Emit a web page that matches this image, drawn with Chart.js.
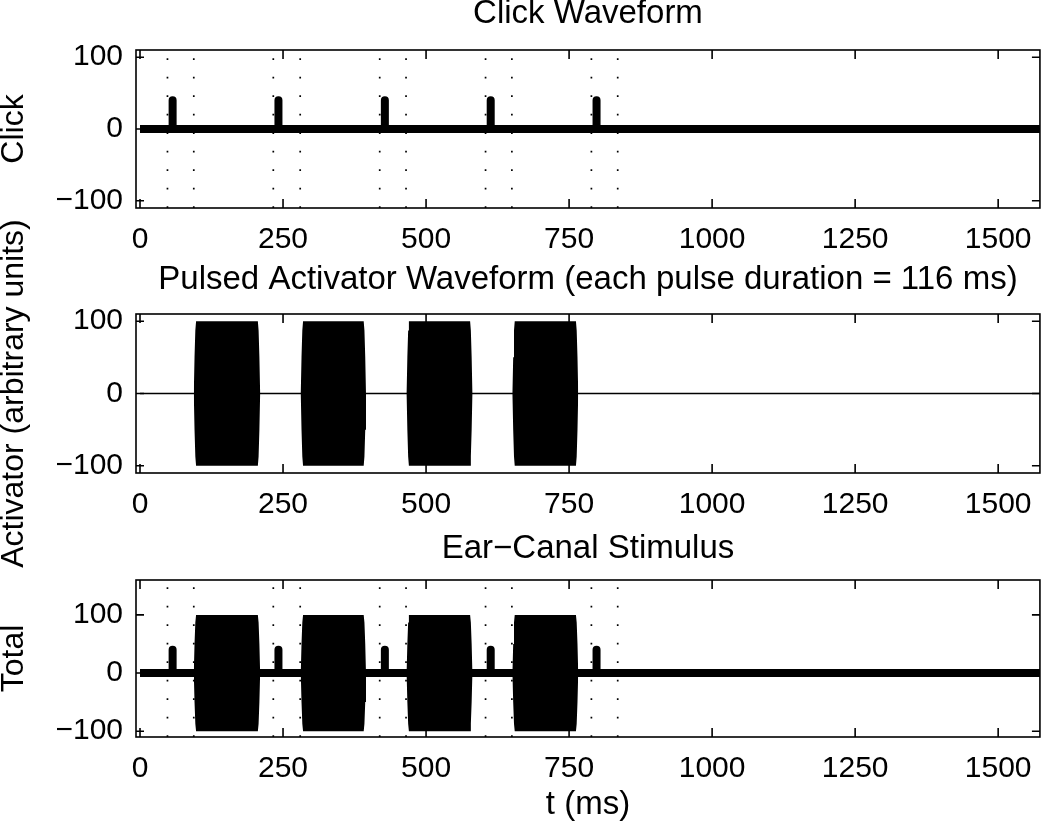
<!DOCTYPE html>
<html>
<head>
<meta charset="utf-8">
<script src="https://cdn.jsdelivr.net/npm/chart.js@4"></script>
<style>
  body { margin: 0; background: #fff; }
  #wrap { position: relative; width: 1050px; height: 830px; }
  #wrap canvas { position: absolute; left: 0; top: 0; }
</style>
</head>
<body>
<div id="wrap">
  <canvas id="clickChart" width="1050" height="830"></canvas>
  <canvas id="actChart" width="1050" height="830"></canvas>
  <canvas id="totalChart" width="1050" height="830"></canvas>
</div>
<script>
// axis ticks
const xTicks = [0, 250, 500, 750, 1000, 1250, 1500];
const yTicks = [-100, 0, 100];
const tEnd = 1573; // ms, end of record

// click train (ms) and its level
const clickTimes = [57, 242, 428, 613, 798];
const clickLevel = 40;

// dotted analysis windows round each click (ms)
const gateStarts = [48, 233, 419, 604, 789];
const gateEnds = [94, 280, 465, 650, 835];

// activator pulses (ms), 116 ms each
const pulseStarts = [94, 281, 466, 651];
const pulseEnds = [210, 395, 581, 766];
const pulseLevel = 100;
// onset ramp of the pulse envelope: time after onset (ms) -> fraction of level
const rampTimes = [0, 1.3, 2.7, 4];
const rampLevels = [0, 0.5, 0.87, 1];

Chart.defaults.font.family = "'Liberation Sans', Arial, Helvetica, sans-serif";
Chart.defaults.color = '#000';

const TICK_FONT = { size: 30, lineHeight: '28px' };
const LABEL_FONT = { size: 33, lineHeight: '28px' };

// build traces from the arrays above
function clickTrace() {
    const pts = [{ x: 0, y: 0 }];
    clickTimes.forEach(t => {
        pts.push({ x: t, y: 0 }, { x: t, y: clickLevel }, { x: t, y: 0 });
    });
    pts.push({ x: tEnd, y: 0 });
    return pts;
}

function envelope(sign) {
    const pts = [];
    pulseStarts.forEach((on, i) => {
        const off = pulseEnds[i];
        rampTimes.forEach((r, k) => pts.push({ x: on + r, y: sign * pulseLevel * rampLevels[k] }));
        for (let k = rampTimes.length - 1; k >= 0; k--) {
            pts.push({ x: off - rampTimes[k], y: sign * pulseLevel * rampLevels[k] });
        }
    });
    return pts;
}

function gateLines(yMin, yMax) {
    return gateStarts.concat(gateEnds).map(t => ({
        data: [{ x: t, y: yMin }, { x: t, y: yMax }],
        borderColor: '#000',
        borderWidth: 1.7,
        borderDash: [1.7, 16.8],
        pointRadius: 0,
        clip: 0
    }));
}

function burstSets() {
    return [1, -1].map(s => ({
        data: envelope(s),
        borderColor: 'rgba(0,0,0,0)',
        borderWidth: 1,
        backgroundColor: '#000',
        fill: 'origin',
        pointRadius: 0,
        clip: 0
    }));
}

function clickSet() {
    return {
        data: clickTrace(),
        borderColor: '#000',
        borderWidth: 8,
        borderJoinStyle: 'round',
        pointRadius: 0,
        clip: 0
    };
}

const fmt = v => (v < 0 ? '\u2212' + (-v) : String(v));

// matlab style box with inward ticks on all four sides
const boxTicks = {
    id: 'boxTicks',
    afterDatasetsDraw(chart) {
        const { ctx, chartArea: a, scales: { x, y } } = chart;
        ctx.save();
        ctx.strokeStyle = '#000';
        ctx.lineWidth = 1.6;
        ctx.strokeRect(a.left, a.top, a.right - a.left, a.bottom - a.top);
        ctx.beginPath();
        x.ticks.forEach(t => {
            const px = x.getPixelForValue(t.value);
            ctx.moveTo(px, a.bottom); ctx.lineTo(px, a.bottom - 9);
            ctx.moveTo(px, a.top); ctx.lineTo(px, a.top + 9);
        });
        y.ticks.forEach(t => {
            const py = y.getPixelForValue(t.value);
            ctx.moveTo(a.left, py); ctx.lineTo(a.left + 8, py);
            ctx.moveTo(a.right, py); ctx.lineTo(a.right - 8, py);
        });
        ctx.stroke();
        ctx.restore();
    }
};

function panel(id, datasets, p) {
    return new Chart(document.getElementById(id), {
        type: 'line',
        data: { datasets },
        options: {
            responsive: false,
            animation: false,
            events: [],
            layout: { padding: { top: p.top, bottom: p.bottom, left: 0, right: 5 } },
            plugins: {
                legend: { display: false },
                tooltip: { enabled: false },
                title: {
                    display: true,
                    text: p.title,
                    fullSize: false,
                    font: { size: 33, weight: 'normal', lineHeight: '28px' },
                    padding: { top: 0, bottom: p.gap }
                }
            },
            scales: {
                x: {
                    type: 'linear',
                    min: -7,
                    max: tEnd,
                    grid: { display: false, drawTicks: false },
                    border: { display: false },
                    ticks: { padding: 18, font: TICK_FONT, maxRotation: 0, autoSkip: false, callback: fmt },
                    afterBuildTicks: s => { s.ticks = xTicks.map(v => ({ value: v })); },
                    afterFit: s => { s.height = p.xHeight; },
                    title: {
                        display: !!p.xLabel,
                        text: p.xLabel || '',
                        font: LABEL_FONT,
                        padding: { top: 0, bottom: 11 }
                    }
                },
                y: {
                    type: 'linear',
                    min: p.yMin,
                    max: p.yMax,
                    grid: { display: false, drawTicks: false },
                    border: { display: false },
                    ticks: { padding: 13, font: TICK_FONT, autoSkip: false, callback: fmt },
                    afterBuildTicks: s => { s.ticks = yTicks.map(v => ({ value: v })); },
                    afterFit: s => { s.width = 136; },
                    title: {
                        display: true,
                        text: p.yLabel,
                        font: { size: 32, lineHeight: '28px' },
                        padding: { top: 0, bottom: 0 }
                    }
                }
            }
        },
        plugins: [boxTicks]
    });
}

panel('clickChart', [clickSet(), ...gateLines(-110, 110)], {
    title: 'Click Waveform', yLabel: 'Click',
    yMin: -110, yMax: 110,
    top: 0, gap: 22, bottom: 562, xHeight: 60
});

panel('actChart', [
    { data: [{ x: 0, y: 0 }, { x: tEnd, y: 0 }], borderColor: '#000', borderWidth: 1.6, pointRadius: 0, clip: 0 },
    ...burstSets()
], {
    title: 'Pulsed Activator Waveform (each pulse duration = 116 ms)', yLabel: 'Activator (arbitrary units)',
    yMin: -110, yMax: 110,
    top: 266, gap: 20, bottom: 297, xHeight: 60
});

panel('totalChart', [clickSet(), ...burstSets(), ...gateLines(-110, 160)], {
    title: 'Ear\u2212Canal Stimulus', yLabel: 'Total', xLabel: 't (ms)',
    yMin: -110, yMax: 160,
    top: 535, gap: 17, bottom: 0, xHeight: 93
});
</script>
</body>
</html>
